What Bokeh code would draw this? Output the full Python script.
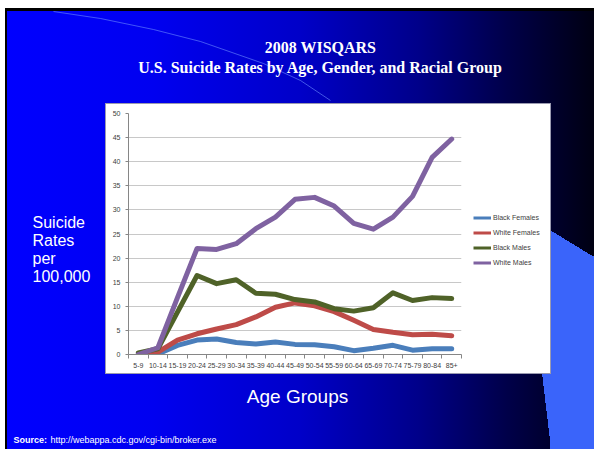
from bokeh.plotting import figure
from bokeh.layouts import column, row
from bokeh.models import (Range1d, FixedTicker, Legend, LegendItem, Label,
                          ColumnDataSource)
from bokeh.embed import file_html
from bokeh.resources import INLINE

# ---------------- data ----------------
age_groups = ["5-9", "10-14", "15-19", "20-24", "25-29", "30-34", "35-39",
              "40-44", "45-49", "50-54", "55-59", "60-64", "65-69", "70-74",
              "75-79", "80-84", "85+"]
black_females = [0.0, 0.1, 1.9, 3.0, 3.2, 2.5, 2.2, 2.6, 2.1, 2.0, 1.6, 0.8,
                 1.3, 1.9, 0.9, 1.2, 1.2]
white_females = [0.0, 0.5, 3.0, 4.3, 5.3, 6.2, 7.8, 9.8, 10.7, 10.1, 8.9, 7.1,
                 5.2, 4.6, 4.1, 4.2, 3.9]
black_males = [0.3, 1.2, 8.8, 16.4, 14.7, 15.5, 12.7, 12.5, 11.4, 10.9, 9.5,
               9.0, 9.7, 12.8, 11.2, 11.8, 11.6]
white_males = [0.0, 1.4, 11.8, 22.0, 21.8, 23.0, 26.1, 28.5, 32.2, 32.6, 30.8,
               27.2, 26.0, 28.5, 32.8, 40.9, 44.7]
series_names = ["Black Females", "White Females", "Black Males", "White Males"]
y_ticks = [0, 5, 10, 15, 20, 25, 30, 35, 40, 45, 50]

colors = ["#4a7ebb", "#be4b48", "#4f6228", "#7f62a1"]

# ---------------- page geometry (pixels) ----------------
W, H = 594, 449
BOX_L, BOX_T, BOX_R, BOX_B = 106, 104, 550, 373      # white chart box
FL, FR, FT, FB = 128, 461, 113, 354                  # plot frame
LEG_L = 470                                          # start of legend area

SHAPE = "#3a64fa"
bg = ", ".join([
    # white chart box with thin grey border
    "linear-gradient(#ffffff,#ffffff) 106px 104px / 444px 269px no-repeat",
    "linear-gradient(#9a9ab0,#9a9ab0) 105px 103px / 446px 271px no-repeat",
    # light blue decorative shape at the right
    f"linear-gradient(to bottom left, transparent 50%, {SHAPE} 50%) 550px 230px / 44px 27px no-repeat",
    f"linear-gradient({SHAPE},{SHAPE}) 550px 256px / 44px 193px no-repeat",
    f"linear-gradient(to top right, transparent 50%, {SHAPE} 50%) 542px 373px / 9px 76px no-repeat",
    # black slide border
    "linear-gradient(#000,#000) 5px 8px / 589px 3px no-repeat",
    "linear-gradient(#000,#000) 5px 8px / 2px 441px no-repeat",
    # blue gradient slide
    "linear-gradient(to right, #0000ff 0%, #0000f0 25%, #0000c8 50%, #00008a 70%, #00004a 85%, #000012 100%) 7px 11px / 587px 438px no-repeat",
    "#ffffff",
])


def deco(x0, y0, w, h, fill=None):
    f = figure(width=w, height=h, x_range=Range1d(x0, x0 + w),
               y_range=Range1d(y0 + h, y0), x_axis_type=None, y_axis_type=None,
               output_backend="svg", toolbar_location=None, min_border=0,
               border_fill_color=fill, background_fill_color=fill,
               outline_line_color=None)
    f.grid.visible = False
    return f


def lab(f, px, py, text, size, font="Liberation Sans", style="normal",
        align="left", color="white"):
    f.add_layout(Label(x=px, y=py, text=text, text_font_size=f"{size}px",
                       text_font=font, text_font_style=style, text_align=align,
                       text_baseline="alphabetic", text_color=color))


# ---- top strip: titles ----
top = deco(0, 0, W, BOX_T)
top.line([53, 100, 153, 200, 263, 300, 330], [11, 18, 29, 41, 63, 80, 100],
         line_color="#6c8cff", line_alpha=0.6, line_width=1)
lab(top, 320, 47, "2008 WISQARS", 16, font="Liberation Serif", style="bold", align="center")
lab(top, 320, 67, "U.S. Suicide Rates by Age, Gender, and Racial Group", 16,
    font="Liberation Serif", style="bold", align="center")

# ---- left strip: y title ----
left = deco(0, BOX_T, BOX_L, BOX_B - BOX_T)
lab(left, 32, 226, "Suicide", 16)
lab(left, 32, 246, "Rates", 16)
lab(left, 32, 265.5, "per", 16)
lab(left, 32, 285, "100,000", 16)

# ---- right strip (transparent spacer) ----
right = deco(BOX_R, BOX_T, W - BOX_R, BOX_B - BOX_T)

# ---- bottom strip ----
bottom = deco(0, BOX_B, W, H - BOX_B)
lab(bottom, 297, 396, "Age Groups", 19, align="center")
lab(bottom, 13, 439, "Source:", 9, style="bold")
lab(bottom, 50, 439, "http://webappa.cdc.gov/cgi-bin/broker.exe", 9)

# ---- chart ----
n = len(age_groups)
centers = [i + 0.5 for i in range(n)]

p = figure(width=LEG_L - BOX_L, height=BOX_B - BOX_T,
           x_range=Range1d(0, n), y_range=Range1d(0, 50),
           output_backend="svg", toolbar_location=None,
           min_border_left=FL - BOX_L, min_border_right=LEG_L - FR,
           min_border_top=FT - BOX_T, min_border_bottom=BOX_B - FB,
           border_fill_color="white", background_fill_color="white",
           outline_line_color=None)

p.xaxis.ticker = FixedTicker(ticks=centers, minor_ticks=list(range(n + 1)))
p.xaxis.major_label_overrides = {c: g for c, g in zip(centers, age_groups)}
p.xaxis.major_tick_out = 0
p.xaxis.major_tick_in = 0
p.xaxis.minor_tick_out = 4
p.xaxis.minor_tick_in = 0
p.xaxis.minor_tick_line_color = "#868686"
p.xaxis.axis_line_color = "#868686"
p.xaxis.major_label_standoff = 4
p.xaxis.major_label_text_font_size = "7px"
p.xaxis.major_label_text_font = "Liberation Sans"
p.xaxis.major_label_text_color = "#404040"

p.yaxis.ticker = FixedTicker(ticks=y_ticks, minor_ticks=[])
p.yaxis.major_tick_out = 3
p.yaxis.major_tick_in = 0
p.yaxis.minor_tick_out = 0
p.yaxis.minor_tick_in = 0
p.yaxis.major_tick_line_color = "#868686"
p.yaxis.axis_line_color = "#868686"
p.yaxis.major_label_standoff = 5
p.yaxis.major_label_text_font_size = "7px"
p.yaxis.major_label_text_font = "Liberation Sans"
p.yaxis.major_label_text_color = "#404040"

p.xgrid.visible = False
p.ygrid.grid_line_color = "#c8c8c8"
p.ygrid.grid_line_width = 1

for name, vals, col in zip(series_names,
                           [black_females, white_females, black_males, white_males],
                           colors):
    src = ColumnDataSource(dict(x=centers, y=vals))
    p.line("x", "y", source=src, line_width=5, line_color=col,
           line_join="round", line_cap="round")

# ---- legend area (inside the white box, right of the plot) ----
legfig = deco(LEG_L, BOX_T, BOX_R - LEG_L, BOX_B - BOX_T, fill="white")
swatches = []
for name, col in zip(series_names, colors):
    s = ColumnDataSource(dict(x=[float("nan")], y=[float("nan")]))
    swatches.append(legfig.line("x", "y", source=s, line_color=col, line_width=3))
legend = Legend(items=[LegendItem(label=nm, renderers=[r])
                       for nm, r in zip(series_names, swatches)],
                location=(473 - LEG_L, 84.5), orientation="vertical",
                border_line_color=None, background_fill_alpha=0,
                padding=0, margin=0, spacing=0, glyph_width=18,
                glyph_height=15, label_height=15, label_standoff=2,
                label_text_font_size="7px", label_text_font="Liberation Sans",
                label_text_color="#404040")
legfig.add_layout(legend)

layout = column(top, row(left, p, legfig, right, spacing=0), bottom, spacing=0,
                width=W, height=H, styles={"background": bg})

open("out.html", "w").write(file_html(layout, INLINE))
